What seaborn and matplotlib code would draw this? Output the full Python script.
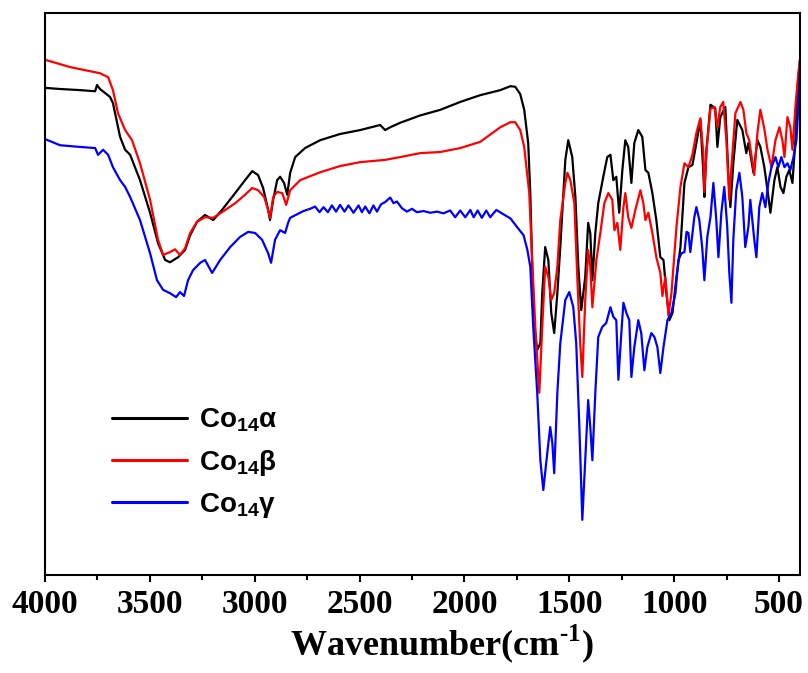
import matplotlib
matplotlib.use("Agg")
import matplotlib.pyplot as plt
import seaborn as sns
import pandas as pd
from matplotlib.ticker import MultipleLocator

# FT-IR spectra of Co14 polymorphs, transmittance in arbitrary units (0-100)
wn_alpha = [4000, 3928, 3833, 3761, 3752, 3738, 3690, 3676, 3642, 3618, 3594, 3547, 3499, 3461,
            3427, 3404, 3365, 3332, 3308, 3275, 3237, 3198, 3156, 3093, 3046, 3012, 2984, 2960,
            2936, 2927, 2912, 2893, 2879, 2860, 2845, 2831, 2807, 2760, 2688, 2593, 2497, 2402,
            2378, 2354, 2306, 2211, 2115, 2020, 1925, 1829, 1781, 1758, 1734, 1715, 1696, 1686,
            1677, 1667, 1653, 1638, 1629, 1615, 1600, 1586, 1572, 1557, 1543, 1519, 1505, 1486,
            1471, 1457, 1443, 1424, 1410, 1400, 1390, 1376, 1362, 1338, 1319, 1304, 1290, 1276,
            1262, 1247, 1233, 1219, 1204, 1190, 1171, 1152, 1137, 1123, 1104, 1085, 1066, 1051,
            1037, 1023, 1008, 989, 970, 951, 932, 913, 894, 875, 861, 856, 846, 827, 804, 794,
            780, 756, 742, 732, 718, 699, 675, 656, 646, 632, 622, 603, 589, 570, 555, 541, 522,
            508, 493, 479, 465, 451, 436, 422, 413, 400]
t_alpha = [86.6, 86.4, 86.2, 86.0, 87.1, 86.4, 85.0, 83.9, 77.9, 75.6, 74.7, 70.2, 64.4, 59.0,
           56.0, 55.6, 56.5, 57.8, 60.4, 62.8, 64.0, 63.1, 64.9, 67.9, 70.2, 71.8, 71.1, 68.8,
           64.9, 63.1, 66.7, 70.2, 70.8, 69.7, 67.6, 71.5, 74.3, 75.9, 77.3, 78.4, 79.1, 80.0,
           79.1, 79.6, 80.4, 81.7, 82.7, 84.1, 85.3, 86.2, 86.9, 86.8, 85.5, 82.7, 76.8, 67.9,
           55.0, 44.1, 40.0, 41.2, 50.1, 58.3, 56.0, 46.6, 43.0, 50.1, 58.3, 73.8, 77.3, 74.3,
           67.2, 54.8, 47.1, 53.0, 62.6, 60.8, 52.4, 60.8, 66.1, 70.8, 74.3, 74.7, 70.2, 70.8,
           64.4, 72.0, 77.3, 76.1, 69.7, 76.8, 79.1, 77.9, 72.0, 71.5, 67.9, 63.1, 56.5, 56.0,
           50.1, 45.3, 46.6, 53.0, 58.3, 69.7, 72.5, 72.9, 76.8, 80.9, 71.5, 67.2, 75.6, 83.6,
           83.0, 76.1, 81.4, 83.2, 71.5, 65.4, 73.2, 80.9, 79.1, 75.0, 76.8, 73.8, 71.5, 77.3,
           76.1, 72.5, 68.4, 64.4, 70.2, 72.5, 69.0, 67.9, 70.8, 72.0, 69.7, 77.3, 86.2, 91.6]

wn_beta = [4000, 3881, 3738, 3699, 3676, 3652, 3618, 3585, 3547, 3499, 3461, 3437, 3404, 3380,
           3356, 3332, 3308, 3275, 3237, 3198, 3156, 3093, 3046, 3012, 2984, 2955, 2936, 2927,
           2912, 2893, 2869, 2850, 2831, 2783, 2688, 2593, 2497, 2378, 2306, 2211, 2115, 2020,
           1925, 1829, 1781, 1758, 1734, 1715, 1691, 1677, 1662, 1643, 1629, 1615, 1600, 1586,
           1572, 1557, 1543, 1519, 1509, 1495, 1476, 1462, 1448, 1438, 1424, 1410, 1400, 1390,
           1371, 1352, 1333, 1314, 1295, 1285, 1271, 1257, 1242, 1233, 1219, 1204, 1185, 1161,
           1147, 1137, 1123, 1104, 1085, 1066, 1056, 1042, 1027, 1013, 989, 970, 951, 932, 913,
           894, 875, 861, 856, 846, 827, 808, 794, 780, 766, 751, 737, 727, 708, 684, 670, 656,
           642, 627, 618, 603, 589, 570, 555, 536, 517, 498, 484, 474, 460, 446, 436, 422, 408,
           400]
t_beta = [91.6, 90.3, 89.2, 88.5, 86.2, 82.1, 79.1, 77.3, 73.2, 66.7, 59.6, 56.9, 57.4, 57.9,
          56.9, 58.1, 60.8, 62.8, 63.6, 63.5, 64.5, 66.1, 67.6, 68.8, 68.4, 67.2, 64.9, 63.5,
          67.2, 68.1, 67.9, 65.8, 68.4, 70.2, 71.6, 72.7, 73.4, 73.8, 74.3, 75.0, 75.2, 75.9,
          77.0, 79.6, 80.5, 80.5, 79.1, 76.1, 67.9, 56.0, 44.1, 32.4, 44.1, 54.8, 53.0, 48.9,
          50.1, 54.8, 63.1, 69.7, 71.5, 70.2, 66.1, 53.0, 41.2, 35.2, 48.9, 57.8, 54.8, 47.6,
          56.0, 60.8, 66.1, 67.9, 66.7, 61.3, 62.6, 57.8, 65.4, 67.9, 63.6, 61.7, 64.9, 68.4,
          66.1, 63.1, 64.4, 60.8, 56.5, 53.7, 49.6, 53.0, 46.2, 50.1, 61.9, 69.0, 73.2, 72.5, 74.7,
          78.6, 81.2, 75.0, 68.1, 75.2, 82.9, 83.2, 79.6, 83.2, 84.1, 77.3, 66.7, 72.5, 82.1,
          84.1, 82.7, 78.6, 77.3, 73.4, 71.1, 78.6, 82.7, 79.3, 75.6, 72.5, 77.3, 79.6, 77.3,
          74.3, 81.4, 79.6, 75.6, 83.2, 89.2, 91.6]

wn_gamma = [4000, 3928, 3833, 3761, 3747, 3723, 3699, 3676, 3642, 3618, 3594, 3547, 3499, 3466,
            3437, 3404, 3375, 3356, 3337, 3318, 3294, 3260, 3237, 3203, 3165, 3117, 3070, 3031,
            2998, 2965, 2936, 2922, 2903, 2879, 2855, 2841, 2831, 2768, 2736, 2712, 2691, 2672,
            2651, 2632, 2612, 2593, 2572, 2553, 2529, 2505, 2489, 2473, 2453, 2434, 2417, 2398,
            2378, 2354, 2338, 2322, 2298, 2274, 2250, 2227, 2195, 2163, 2131, 2100, 2068, 2044,
            2020, 1996, 1972, 1956, 1937, 1917, 1896, 1877, 1848, 1813, 1781, 1750, 1718, 1700,
            1686, 1672, 1653, 1638, 1624, 1605, 1591, 1581, 1572, 1557, 1543, 1519, 1500, 1481,
            1467, 1452, 1438, 1424, 1410, 1400, 1390, 1376, 1362, 1343, 1324, 1304, 1290, 1276,
            1266, 1252, 1242, 1228, 1214, 1204, 1190, 1171, 1157, 1142, 1128, 1109, 1094, 1080,
            1066, 1051, 1032, 1013, 994, 980, 965, 951, 941, 932, 923, 904, 894, 880, 866, 856,
            842, 827, 813, 799, 789, 775, 761, 747, 737, 727, 718, 704, 689, 675, 661, 646, 637,
            618, 608, 594, 580, 565, 551, 536, 517, 503, 489, 474, 460, 446, 431, 417, 408, 400]
t_gamma = [77.5, 76.4, 76.1, 75.9, 74.7, 75.6, 74.7, 72.5, 70.2, 69.0, 67.2, 63.1, 57.2, 52.4,
           50.7, 50.1, 49.4, 50.3, 49.6, 52.4, 54.2, 55.5, 56.0, 53.7, 56.0, 58.3, 60.1, 61.0,
           60.8, 59.6, 57.2, 55.5, 59.6, 61.3, 60.8, 62.6, 63.5, 64.7, 65.1, 65.5, 64.5, 65.4,
           64.5, 65.7, 64.6, 65.8, 64.6, 65.7, 64.4, 65.7, 64.5, 65.5, 64.3, 65.7, 64.6, 65.9,
           66.3, 67.1, 66.1, 66.4, 65.2, 64.6, 65.1, 64.5, 64.7, 64.4, 64.6, 64.3, 64.8, 63.6,
           64.8, 63.6, 64.9, 63.6, 64.8, 63.5, 64.8, 63.6, 64.9, 64.1, 63.4, 61.9, 60.4, 57.8,
           54.8, 44.1, 32.4, 20.4, 15.1, 21.7, 26.3, 23.5, 18.1, 32.4, 41.2, 48.9, 50.3, 47.6,
           41.2, 26.3, 9.8, 20.4, 31.1, 26.3, 20.4, 32.4, 42.3, 44.1, 44.8, 47.6, 45.9, 45.3,
           34.7, 43.0, 48.4, 46.6, 45.3, 35.2, 40.5, 45.3, 43.0, 36.4, 40.5, 43.0, 42.3, 40.5,
           35.9, 40.5, 45.3, 46.6, 50.1, 56.0, 57.2, 57.4, 61.0, 60.8, 57.4, 63.6, 65.4, 63.1,
           58.1, 52.4, 60.1, 63.6, 69.7, 63.1, 56.5, 64.4, 69.0, 61.9, 53.7, 48.4, 59.6, 68.4,
           71.5, 67.2, 58.3, 61.9, 66.7, 59.6, 56.5, 65.4, 67.9, 65.4, 69.7, 72.5, 74.3, 72.5,
           74.3, 72.5, 73.2, 72.0, 74.3, 77.3, 83.2, 90.3]

labels = [r"Co$_\mathsf{14}$α", r"Co$_\mathsf{14}$β", r"Co$_\mathsf{14}$γ"]
colors = ["#000000", "#ff0000", "#0000ff"]

frames = []
for lab, wn, t in zip(labels, [wn_alpha, wn_beta, wn_gamma], [t_alpha, t_beta, t_gamma]):
    frames.append(pd.DataFrame({"wavenumber": wn, "T": t, "sample": lab}))
df = pd.concat(frames, ignore_index=True)

sns.set_style("ticks")
plt.rcParams["font.family"] = ["Liberation Serif", "DejaVu Serif"]
plt.rcParams["mathtext.fontset"] = "custom"
plt.rcParams["mathtext.rm"] = "Liberation Serif:bold"
plt.rcParams["mathtext.sf"] = "Liberation Sans:bold"
plt.rcParams["text.color"] = "black"
plt.rcParams["axes.labelcolor"] = "black"
plt.rcParams["xtick.color"] = "black"

fig = plt.figure(figsize=(8.08, 6.73), dpi=100)
ax = fig.add_axes([45 / 808, 1 - 575 / 673, 755 / 808, 562.5 / 673])

sns.lineplot(data=df, x="wavenumber", y="T", hue="sample", palette=colors,
             estimator=None, sort=False, linewidth=1.6, ax=ax)

ax.set_xlim(4000, 400)
ax.set_ylim(0, 100)
ax.xaxis.set_major_locator(MultipleLocator(500))
ax.xaxis.set_minor_locator(MultipleLocator(250))
ax.set_yticks([])
ax.set_ylabel("")
ax.tick_params(axis="x", which="major", direction="out", length=5, width=1.5,
               labelsize=24, pad=5)
ax.tick_params(axis="x", which="minor", direction="out", length=3.5, width=1.5)
for lbl in ax.get_xticklabels():
    lbl.set_fontweight("bold")
for sp in ax.spines.values():
    sp.set_visible(True)
    sp.set_linewidth(1.5)
    sp.set_color("black")

ax.set_xlabel(r"Wavenumber(cm$^{\text{-1}}$)", fontsize=26, fontweight="bold", labelpad=2)
ax.xaxis.label.set_x(0.526)

handles, _ = ax.get_legend_handles_labels()
leg = ax.legend(handles, labels, loc="upper left", bbox_to_anchor=(0.074, 0.319),
                frameon=False, borderaxespad=0, handlelength=2.7, handletextpad=0.45,
                labelspacing=0.48,
                prop={"family": "Liberation Sans", "weight": "bold", "size": 20})
for line in leg.get_lines():
    line.set_linewidth(2.2)

fig.savefig("out.png", dpi=100)
